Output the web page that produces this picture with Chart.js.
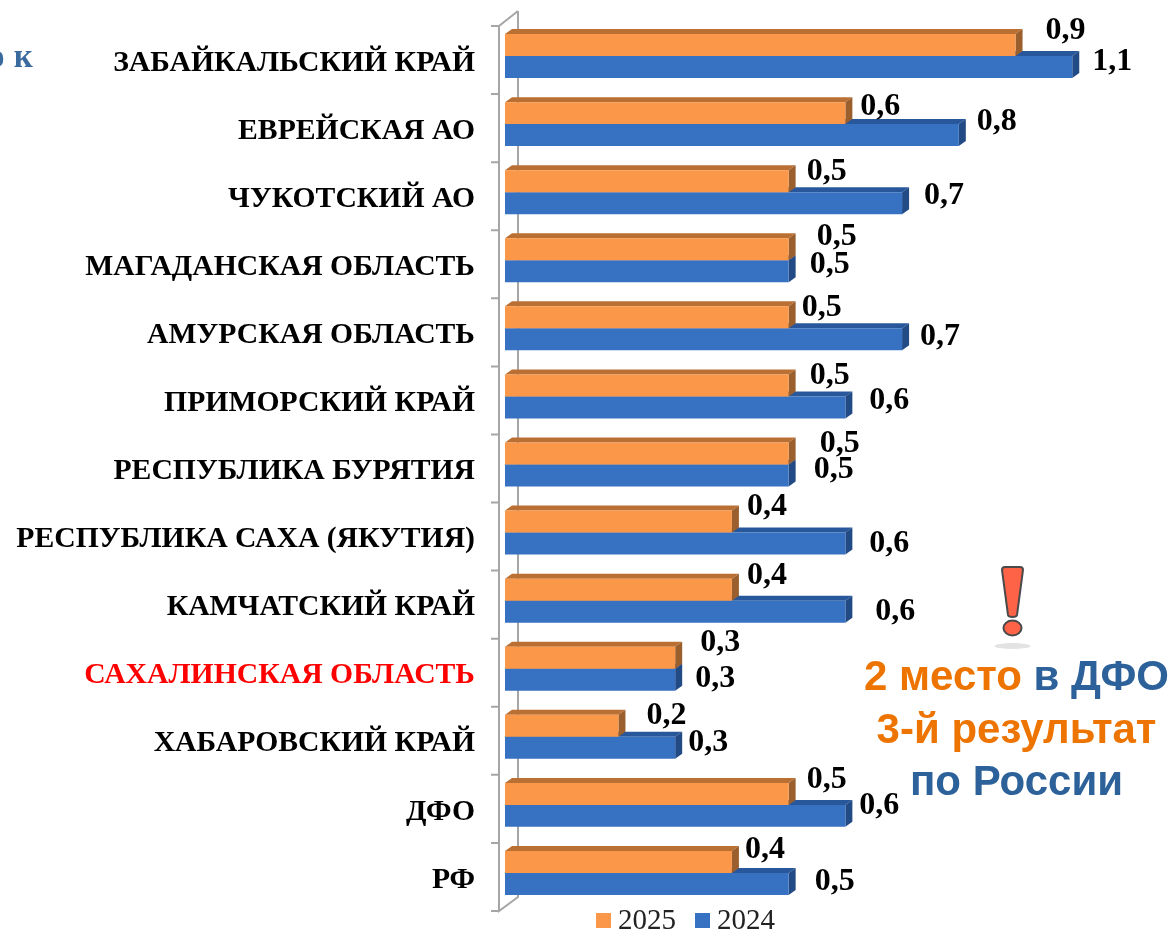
<!DOCTYPE html>
<html lang="ru">
<head>
<meta charset="utf-8">
<title>Chart</title>
<script src="https://cdn.jsdelivr.net/npm/chart.js@4"></script>
<style>
    html, body { margin: 0; padding: 0; background: #fff; overflow: hidden; }
    #wrap { position: relative; width: 1173px; height: 930px; overflow: hidden; }
    #cut { position: absolute; left: -12px; top: 38px; font: bold 33px "Liberation Serif", serif; color: #3A6A9E; word-spacing: 1px; }
    #note { position: absolute; left: 843px; top: 650px; width: 347px; text-align: center; font: bold 42px/52.5px "Liberation Sans", sans-serif; color: #2C6199; white-space: nowrap; }
    #note b { color: #ED7400; }
    #mark { position: absolute; left: 990px; top: 562px; }
</style>
</head>
<body>
<div id="wrap">
    <canvas id="myChart" width="1173" height="930"></canvas>
    <div id="cut">о к</div>
    <svg id="mark" width="46" height="92" viewBox="0 0 46 92">
        <ellipse cx="22.5" cy="84" rx="18" ry="3" fill="#E3E3E3"/>
        <path d="M12 8 Q12 5 15 5 L30 5 Q33 5 33 8 L27 53 Q26.500 55 22.500 55 Q18.500 55 18 53 Z" fill="#FF6347" stroke="#4A4A4A" stroke-width="2"/>
        <ellipse cx="22.5" cy="66" rx="9" ry="7.500" fill="#FF6347" stroke="#4A4A4A" stroke-width="2"/>
    </svg>
    <div id="note"><b>2 место</b> в ДФО<br><b>3-й результат</b><br>по России</div>
</div>
<script>
// values
var categories = ['ЗАБАЙКАЛЬСКИЙ КРАЙ', 'ЕВРЕЙСКАЯ АО', 'ЧУКОТСКИЙ АО', 'МАГАДАНСКАЯ ОБЛАСТЬ', 'АМУРСКАЯ ОБЛАСТЬ',
    'ПРИМОРСКИЙ КРАЙ', 'РЕСПУБЛИКА БУРЯТИЯ', 'РЕСПУБЛИКА САХА (ЯКУТИЯ)', 'КАМЧАТСКИЙ КРАЙ', 'САХАЛИНСКАЯ ОБЛАСТЬ',
    'ХАБАРОВСКИЙ КРАЙ', 'ДФО', 'РФ'];
var values2025 = [0.9, 0.6, 0.5, 0.5, 0.5, 0.5, 0.5, 0.4, 0.4, 0.3, 0.2, 0.5, 0.4];
var values2024 = [1.0, 0.8, 0.7, 0.5, 0.7, 0.6, 0.5, 0.6, 0.6, 0.3, 0.3, 0.6, 0.5];
// printed labels (the first 2024 bar is drawn shorter than its label says)
var labels2025 = ['0,9', '0,6', '0,5', '0,5', '0,5', '0,5', '0,5', '0,4', '0,4', '0,3', '0,2', '0,5', '0,4'];
var labels2024 = ['1,1', '0,8', '0,7', '0,5', '0,7', '0,6', '0,5', '0,6', '0,6', '0,3', '0,3', '0,6', '0,5'];

// labels were moved by hand in the original, so each has its own nudge
var nudgeX2025 = [49, 34, 37, 47, 32, 40, 50, 34, 34, 44, 47, 37, 32];
var nudgeY2025 = [-16, -8, -11, -15, -12, -12, -12, -17, -16, -17, -12, -16, -14];
var nudgeX2024 = [39, 37, 41, 40, 37, 43, 44, 43, 49, 39, 32, 33, 45];
var nudgeY2024 = [-7, -15, -9, -9, -5, -9, -8, -2, -2, -3, -7, -12, -4];

var depthX = 7, depthY = 5;

function drawFaces(ctx, chart, index, topColor, sideColor) {
    chart.getDatasetMeta(index).data.forEach(function (bar) {
        var h = bar.height / 2;
        ctx.fillStyle = topColor;
        ctx.beginPath();
        ctx.moveTo(bar.base, bar.y - h);
        ctx.lineTo(bar.base + depthX, bar.y - h - depthY);
        ctx.lineTo(bar.x + depthX, bar.y - h - depthY);
        ctx.lineTo(bar.x, bar.y - h);
        ctx.fill();
        ctx.fillStyle = sideColor;
        ctx.beginPath();
        ctx.moveTo(bar.x, bar.y - h);
        ctx.lineTo(bar.x + depthX, bar.y - h - depthY);
        ctx.lineTo(bar.x + depthX, bar.y + h - depthY);
        ctx.lineTo(bar.x, bar.y + h);
        ctx.fill();
    });
}

var fakeDepth = {
    id: 'fakeDepth',
    beforeDatasetsDraw: function (chart) {
        var ctx = chart.ctx, area = chart.chartArea;
        var band = (area.bottom - area.top) / categories.length;
        var x0 = area.left - 6, x1 = area.left + 13;
        var top = area.top + 4, bottom = area.bottom + 4;
        ctx.save();
        // axis box
        ctx.strokeStyle = '#A6A6A6';
        ctx.lineWidth = 2;
        ctx.beginPath();
        ctx.moveTo(x1, top - 15);
        ctx.lineTo(x0, top);
        ctx.lineTo(x0, bottom);
        ctx.lineTo(x1, bottom - 14);
        ctx.lineTo(x1, top - 15);
        for (var i = 0; i <= categories.length; i++) {
            ctx.moveTo(x0 - 8, top + i * band);
            ctx.lineTo(x0, top + i * band);
        }
        ctx.stroke();
        drawFaces(ctx, chart, 1, '#28589B', '#224A85');
        drawFaces(ctx, chart, 0, '#BA6F33', '#9B5F2D');
        ctx.restore();
    },
    afterDatasetsDraw: function (chart) {
        var ctx = chart.ctx;
        ctx.save();
        ctx.font = 'bold 32px "Liberation Serif", serif';
        ctx.fillStyle = '#000';
        ctx.textAlign = 'center';
        ctx.textBaseline = 'middle';
        chart.getDatasetMeta(0).data.forEach(function (bar, i) {
            ctx.fillText(labels2025[i], bar.x + nudgeX2025[i] + 1, bar.y + nudgeY2025[i] + 2);
        });
        chart.getDatasetMeta(1).data.forEach(function (bar, i) {
            ctx.fillText(labels2024[i], bar.x + nudgeX2024[i] + 1, bar.y + nudgeY2024[i] + 2);
        });
        // legend sits lower than the built-in one can go without squeezing the plot
        ctx.font = '29px "Liberation Serif", serif';
        ctx.textAlign = 'left';
        ctx.textBaseline = 'alphabetic';
        var x = 596;
        chart.data.datasets.forEach(function (ds) {
            ctx.fillStyle = ds.backgroundColor;
            ctx.fillRect(x, 913, 15, 15);
            ctx.fillStyle = '#222';
            ctx.fillText(ds.label, x + 22, 929);
            x += 99;
        });
        ctx.restore();
    }
};

var ctx = document.getElementById('myChart').getContext('2d');
var myChart = new Chart(ctx, {
    type: 'bar',
    data: {
        labels: categories,
        datasets: [
            { label: '2025', data: values2025, backgroundColor: '#FB9748', borderWidth: 0 },
            { label: '2024', data: values2024, backgroundColor: '#3771C2', borderWidth: 0 }
        ]
    },
    options: {
        indexAxis: 'y',
        responsive: false,
        animation: false,
        categoryPercentage: 0.646,
        barPercentage: 1,
        layout: { padding: { top: 22, bottom: 23, left: 0, right: 44 } },
        plugins: { legend: { display: false }, tooltip: { enabled: false } },
        scales: {
            x: { display: false, min: 0, max: 1.1 },
            y: {
                afterFit: function (scale) {
                    scale.width = 505;
                    scale.paddingTop = 0;
                    scale.paddingBottom = 0;
                },
                border: { display: false },
                grid: { display: false, drawTicks: false },
                ticks: {
                    padding: 30,
                    labelOffset: 7,
                    autoSkip: false,
                    font: { family: '"Liberation Serif", serif', size: 29.7, weight: 'bold' },
                    color: function (c) { return c.index === 9 ? '#FF0000' : '#000'; }
                }
            }
        }
    },
    plugins: [fakeDepth]
});
</script>
</body>
</html>
